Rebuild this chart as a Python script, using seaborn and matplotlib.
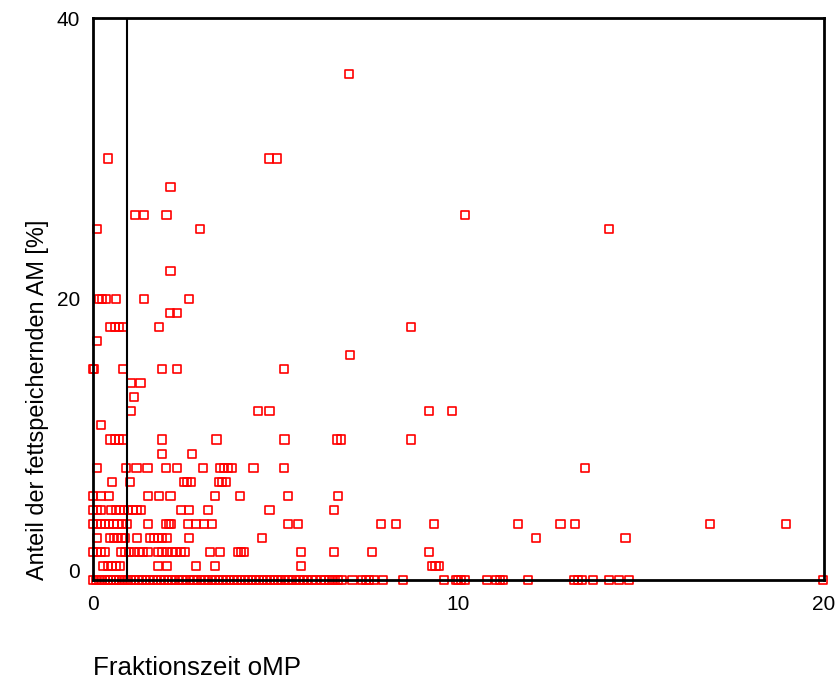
import matplotlib
matplotlib.use("Agg")
import matplotlib.pyplot as plt
import matplotlib.transforms as mtransforms
import seaborn as sns
import pandas as pd

sns.set_theme(style="white")
plt.rcParams['font.family'] = ['Liberation Sans', 'DejaVu Sans']
plt.rcParams['text.color'] = 'black'
plt.rcParams['axes.labelcolor'] = 'black'

# x positions (Fraktionszeit oMP) of the points, grouped by their y value (Anteil AM %)
x_at_36 = [7.01]
x_at_30 = [0.42, 4.82, 5.03]
x_at_28 = [2.12]
x_at_26 = [1.14, 1.40, 2.01, 10.19]
x_at_25 = [0.12, 2.93, 14.12]
x_at_22 = [2.12]
x_at_20 = [0.16, 0.25, 0.35, 0.64, 1.40, 2.62]
x_at_19 = [2.11, 2.31]
x_at_18 = [0.48, 0.60, 0.70, 0.83, 1.81, 8.70]
x_at_17 = [0.12]
x_at_16 = [7.02]
x_at_15 = [0.0, 0.03, 0.83, 1.90, 2.31, 5.23]
x_at_14 = [1.04, 1.30]
x_at_13 = [1.13]
x_at_12 = [1.04, 4.51, 4.83, 9.20, 9.82]
x_at_11 = [0.21]
x_at_10 = [0.48, 0.61, 0.70, 0.83, 1.90, 3.38, 5.24, 6.68, 6.78, 8.70]
x_at_9 = [1.90, 2.72]
x_at_8 = [0.11, 0.91, 1.19, 1.49, 1.99, 2.30, 3.01, 3.47, 3.58, 3.70, 3.79, 4.39, 5.22, 13.45]
x_at_7 = [0.52, 1.02, 2.48, 2.57, 2.67, 3.45, 3.54, 3.63]
x_at_6 = [0.0, 0.22, 0.43, 1.50, 1.81, 2.12, 3.35, 4.02, 5.33, 6.71]
x_at_5 = [0.0, 0.10, 0.21, 0.50, 0.62, 0.73, 0.85, 0.96, 1.08, 1.19, 1.31,
          2.40, 2.62, 3.14, 4.83, 6.60]
x_at_4 = [0.0, 0.10, 0.21, 0.33, 0.45, 0.56, 0.67, 0.79, 0.92, 1.50, 2.00, 2.07,
          2.13, 2.61, 2.83, 3.04, 3.25, 5.33, 5.60, 7.89, 8.29, 9.33, 11.62,
          12.79, 13.19, 16.88, 18.97]
x_at_3 = [0.10, 0.46, 0.57, 0.67, 0.78, 0.87, 1.20, 1.56, 1.67, 1.78, 1.90, 2.02,
          2.62, 4.62, 12.13, 14.57]
x_at_2 = [0.0, 0.11, 0.22, 0.33, 0.77, 0.89, 0.99, 1.12, 1.25, 1.36, 1.50, 1.77,
          1.89, 2.02, 2.15, 2.27, 2.40, 2.52, 3.20, 3.47, 3.97, 4.06, 4.14, 5.68,
          6.60, 7.63, 9.20]
x_at_1 = [0.28, 0.40, 0.51, 0.62, 0.74, 1.77, 2.02, 2.82, 3.33, 5.68, 9.28, 9.37, 9.46]
x_at_0 = [0.0, 0.08, 0.16, 0.24, 0.32, 0.40, 0.48, 0.56, 0.64, 0.72, 0.80, 0.88,
          0.96, 1.05, 1.15, 1.25, 1.35, 1.45, 1.55, 1.65, 1.75, 1.85, 1.95, 2.05,
          2.15, 2.25, 2.35, 2.45, 2.55, 2.65, 2.75, 2.85, 2.95, 3.05, 3.15, 3.25,
          3.35, 3.45, 3.55, 3.65, 3.75, 3.85, 3.95, 4.05, 4.15, 4.25, 4.35, 4.45,
          4.55, 4.65, 4.75, 4.85, 4.95, 5.05, 5.15, 5.25, 5.35, 5.45, 5.55, 5.65,
          5.75, 5.85, 6.00, 6.10, 6.25, 6.35, 6.45, 6.55, 6.62, 6.71, 6.80, 7.10,
          7.37, 7.47, 7.56, 7.69, 7.94, 8.49, 9.61, 9.93, 9.99, 10.06, 10.18,
          10.79, 11.04, 11.13, 11.22, 11.91, 13.17, 13.27, 13.37, 13.69, 14.12,
          14.40, 14.67, 19.98]

row_values = [36, 30, 28, 26, 25, 22, 20, 19, 18, 17, 16, 15, 14, 13, 12, 11,
              10, 9, 8, 7, 6, 5, 4, 3, 2, 1, 0]
row_xs = [x_at_36, x_at_30, x_at_28, x_at_26, x_at_25, x_at_22, x_at_20, x_at_19,
          x_at_18, x_at_17, x_at_16, x_at_15, x_at_14, x_at_13, x_at_12, x_at_11,
          x_at_10, x_at_9, x_at_8, x_at_7, x_at_6, x_at_5, x_at_4, x_at_3, x_at_2,
          x_at_1, x_at_0]

ref_line_x = 0.92
x_ticks = [0, 10, 20]
y_ticks = [0, 20, 40]
x_label = "Fraktionszeit oMP"
y_label = "Anteil der fettspeichernden AM [%]"

xs, ys = [], []
for yv, xl in zip(row_values, row_xs):
    xs.extend(xl)
    ys.extend([yv] * len(xl))
df = pd.DataFrame({"x": xs, "y": ys})

fig = plt.figure(figsize=(8.4, 6.8), dpi=100)
ax = fig.add_axes([93 / 840, 1 - 580 / 680, (824 - 93) / 840, (580 - 18) / 680])

sns.scatterplot(data=df, x="x", y="y", ax=ax, marker="s", s=34,
                facecolor="none", edgecolor="#ff0000", linewidth=1.2,
                clip_on=False, zorder=1, legend=False)

ax.axvline(ref_line_x, color="black", lw=1.5, zorder=3)

ax.set_xlim(0, 20)
ax.set_ylim(0, 40)
ax.set_xticks(x_ticks)
ax.set_yticks(y_ticks)
ax.set_xticklabels([str(t) for t in x_ticks])
ax.set_yticklabels([str(t) for t in y_ticks])
ax.tick_params(axis="both", direction="out", length=3.6, width=1.5, colors="black",
               labelcolor="black", labelsize=15)
ax.tick_params(axis="x", pad=7.4)
ax.tick_params(axis="y", pad=5.5)

# lift the "0" label on the y axis as in the reference
lbl0 = ax.get_yticklabels()[0]
lbl0.set_transform(lbl0.get_transform() + mtransforms.ScaledTranslation(0, 10 / 100, fig.dpi_scale_trans))

for sp in ax.spines.values():
    sp.set_color("black")
    sp.set_linewidth(2.0)
    sp.set_visible(True)

ax.set_xlabel(x_label, fontsize=18.7, loc="left", labelpad=30, color="black")
ax.set_ylabel(y_label, fontsize=16.9, loc="bottom", labelpad=6, color="black")
ax.grid(False)

fig.savefig("out.png", dpi=100)
